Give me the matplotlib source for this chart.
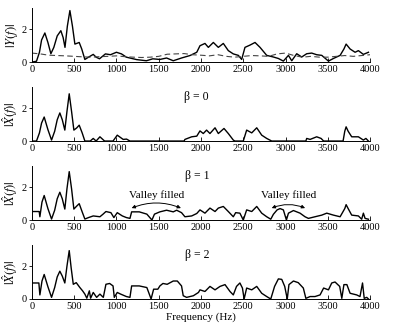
import matplotlib.pyplot as plt

plt.rcParams['font.family'] = 'Liberation Serif'
plt.rcParams['mathtext.fontset'] = 'stix'
plt.rcParams['font.size'] = 7.5

# noisy spectrum |Y(f)|
f_y = [0, 55, 90, 115, 154, 190, 225, 260, 300, 343, 370, 392, 420, 450, 480, 509, 535, 560,
       590, 627, 670, 726, 760, 800, 870, 930, 1000, 1060, 1118, 1240,
       1355, 1430, 1514, 1593, 1672, 1770, 1870, 1950, 1988, 2047, 2087, 2146, 2205, 2264,
       2323, 2382, 2442, 2481, 2520, 2580, 2639, 2698, 2777, 2856, 2915, 2974, 3034, 3073,
       3132, 3191, 3250, 3309, 3368, 3428, 3507, 3566, 3645, 3690, 3716, 3763, 3822, 3861, 3920, 3980]
y_mag = [0.0, 0.05, 0.6, 1.35, 1.78, 1.2, 0.51, 0.9, 1.6, 1.92, 1.5, 0.9, 2.2, 3.15, 2.2, 1.1, 1.15, 1.2,
         0.8, 0.16, 0.3, 0.47, 0.3, 0.2, 0.5, 0.45, 0.6, 0.5, 0.3, 0.15,
         0.08, 0.2, 0.16, 0.25, 0.08, 0.25, 0.4, 0.6, 1.0, 1.14, 0.9, 1.2, 0.9, 1.14,
         0.7, 0.5, 0.41, 0.16, 0.9, 1.04, 1.2, 0.9, 0.41, 0.31, 0.22, 0.06, 0.41, 0.08,
         0.51, 0.31, 0.51, 0.55, 0.45, 0.41, 0.06, 0.22, 0.41, 0.8, 1.1, 0.8, 0.6, 0.7, 0.47, 0.6]

# noise estimate (dashed)
f_n = [0, 100, 200, 300, 400, 500, 600, 700, 800, 900, 1000, 1100, 1200, 1300, 1400, 1500,
       1600, 1700, 1800, 1900, 2000, 2100, 2200, 2300, 2400, 2500, 2600, 2700, 2800, 2900,
       3000, 3100, 3200, 3300, 3400, 3500, 3600, 3700, 3800, 3900, 4000]
n_mag = [0.55, 0.5, 0.42, 0.4, 0.38, 0.35, 0.32, 0.3, 0.33, 0.35, 0.38, 0.33, 0.3, 0.28, 0.3, 0.35,
         0.48, 0.5, 0.52, 0.45, 0.42, 0.38, 0.45, 0.35, 0.3, 0.35, 0.4, 0.38, 0.35, 0.5,
         0.55, 0.4, 0.3, 0.35, 0.3, 0.3, 0.35, 0.4, 0.35, 0.4, 0.45]

# beta = 0
f_b0 = [0, 55, 90, 115, 146, 190, 233, 270, 300, 331, 360, 390, 415, 442, 470, 497, 530, 560,
        595, 627, 690, 726, 760, 805, 860, 960, 1010,
        1080, 1120, 1160, 1800, 1810, 1890, 1950, 1988, 2027, 2066, 2106, 2166, 2205, 2272,
        2323, 2382, 2400, 2500, 2540, 2600, 2659, 2718, 2777, 2836, 3240, 3250, 3290, 3368,
        3420, 3450, 3680, 3700, 3716, 3740, 3782, 3861, 3920, 3950, 3980]
b0_mag = [0.0, 0.0, 0.5, 1.1, 1.47, 0.7, 0.06, 0.6, 1.3, 1.72, 1.3, 0.67, 1.8, 2.89, 1.8, 0.67, 0.8, 0.97,
          0.5, 0.0, 0.0, 0.16, 0.0, 0.26, 0.0, 0.0, 0.36,
          0.1, 0.12, 0.0, 0.0, 0.1, 0.26, 0.3, 0.62, 0.46, 0.67, 0.46, 0.81, 0.46, 0.77,
          0.46, 0.06, 0.0, 0.0, 0.67, 0.5, 0.81, 0.36, 0.16, 0.0, 0.0, 0.16, 0.1, 0.26,
          0.16, 0.0, 0.0, 0.6, 0.87, 0.6, 0.26, 0.26, 0.06, 0.16, 0.0]

# beta = 1
f_b1 = [0, 87, 95, 120, 146, 190, 233, 270, 300, 331, 360, 390, 415, 442, 470, 497, 530, 560,
        595, 627, 670, 726, 805, 840, 876, 935, 970,
        1010, 1070, 1118, 1160, 1180, 1270, 1360, 1420, 1450, 1514, 1593, 1672, 1712, 1770,
        1810, 1890, 1950, 1988, 2047, 2106, 2166, 2205, 2264, 2323, 2382, 2410, 2460, 2500,
        2540, 2600, 2659, 2718, 2777, 2825, 2856, 2900, 2935, 2974, 3010, 3034, 3093, 3171, 3230,
        3270, 3348, 3428, 3487, 3566, 3645, 3700, 3716, 3740, 3782, 3861, 3900, 3920, 3940, 3980]
b1_mag = [0.52, 0.52, 0.2, 1.1, 1.5, 0.7, 0.06, 0.6, 1.3, 1.7, 1.3, 0.67, 1.9, 2.96, 1.9, 0.67, 0.85, 1.0,
          0.5, 0.06, 0.15, 0.25, 0.2, 0.35, 0.52, 0.45, 0.15,
          0.45, 0.25, 0.15, 0.1, 0.5, 0.5, 0.36, 0.0, 0.36, 0.5, 0.6, 0.5, 0.6, 0.45,
          0.2, 0.25, 0.4, 0.62, 0.42, 0.73, 0.52, 0.73, 0.83, 0.52, 0.2, 0.45, 0.42, 0.0,
          0.62, 0.52, 0.83, 0.42, 0.2, 0.05, 0.35, 0.62, 0.7, 0.62, 0.0, 0.42, 0.58, 0.42, 0.2,
          0.1, 0.2, 0.3, 0.42, 0.3, 0.2, 0.7, 0.94, 0.7, 0.3, 0.25, 0.05, 0.42, 0.1, 0.05]

# beta = 2
f_b2 = [0, 83, 95, 120, 146, 190, 233, 270, 300, 331, 360, 390, 415, 442, 465, 490, 525, 568, 600,
        627, 650, 680, 695, 726, 766,
        805, 845, 876, 920, 960, 975, 1010, 1050, 1118, 1160, 1180, 1270, 1360, 1410, 1440,
        1490, 1514, 1550, 1600, 1672, 1720, 1770, 1790, 1830, 1910, 1970, 1988, 2047, 2106,
        2166, 2225, 2284, 2343, 2382, 2420, 2460, 2490, 2510, 2540, 2600, 2659, 2718, 2777,
        2825, 2870, 2915, 2955, 2990, 3020, 3040, 3093, 3150, 3210, 3240, 3290, 3348, 3408,
        3450, 3507, 3546, 3585, 3640, 3665, 3690, 3725, 3763, 3841, 3880, 3910, 3930, 3960, 3980]
b2_mag = [0.98, 0.98, 0.25, 1.1, 1.5, 0.75, 0.1, 0.7, 1.35, 1.7, 1.4, 0.98, 2.0, 2.96, 1.9, 0.9, 1.0, 0.7, 0.5,
          0.3, 0.05, 0.5, 0.05, 0.4, 0.1,
          0.3, 0.1, 0.9, 0.95, 0.8, 0.1, 0.4, 0.3, 0.15, 0.1, 0.8, 0.8, 0.7, 0.0, 0.6,
          0.6, 0.8, 0.95, 0.9, 1.1, 1.1, 0.8, 0.2, 0.1, 0.2, 0.4, 0.56, 0.46, 0.77,
          0.56, 0.77, 0.88, 0.46, 0.25, 0.77, 0.98, 0.67, 0.0, 0.67, 0.56, 0.77, 0.35, 0.15,
          0.0, 0.77, 1.23, 1.2, 0.77, 0.0, 0.88, 1.1, 1.0, 0.67, 0.04, 0.15, 0.15, 0.25,
          0.67, 0.56, 0.98, 1.04, 0.77, 0.04, 0.88, 0.88, 0.35, 0.25, 0.15, 0.98, 0.04, 0.1, 0.0]

xticks = [0, 500, 1000, 1500, 2000, 2500, 3000, 3500, 4000]
betas = ['β = 0', 'β = 1', 'β = 2']

fig = plt.figure(figsize=(3.98, 3.25), dpi=100)
left, width, height = 0.080, 0.850, 0.166
bottoms = [0.809, 0.566, 0.323, 0.080]
axes = [fig.add_axes([left, b, width, height]) for b in bottoms]

axes[0].plot(f_y, y_mag, color='black', lw=1.0)
axes[0].plot(f_n, n_mag, color='#444444', lw=0.8, ls=(0, (5, 3)))
axes[1].plot(f_b0, b0_mag, color='black', lw=1.0)
axes[2].plot(f_b1, b1_mag, color='black', lw=1.0)
axes[3].plot(f_b2, b2_mag, color='black', lw=1.0)

ylabels = [r'$|Y(f)|$', r'$|\hat{X}(f)|$', r'$|\hat{X}(f)|$', r'$|\hat{X}(f)|$']
for ax, lab in zip(axes, ylabels):
    ax.set_xlim(0, 4000)
    ax.set_ylim(0, 3.3)
    ax.set_xticks(xticks)
    ax.set_yticks([0, 2])
    ax.spines['top'].set_visible(False)
    ax.spines['right'].set_visible(False)
    ax.spines['left'].set_linewidth(0.7)
    ax.spines['bottom'].set_linewidth(0.7)
    ax.tick_params(axis='x', direction='in', length=3, width=0.6, pad=2)
    ax.tick_params(axis='y', direction='out', length=2.5, width=0.6, pad=1.5)
    ax.set_ylabel(lab, fontsize=9, labelpad=1)

for ax, txt in zip(axes[1:], betas):
    ax.text(1950, 2.7, txt, ha='center', va='center', fontsize=8.5)

# valley annotations
for x1, x2 in [(1180, 1763), (2836, 3231)]:
    axes[2].text((x1 + x2) / 2, 1.5, 'Valley filled', ha='center', va='center', fontsize=8)
    axes[2].annotate('', xy=(x2, 0.73), xytext=(x1, 0.73),
                     arrowprops=dict(arrowstyle='<|-|>', color='black', lw=0.7,
                                     mutation_scale=5, shrinkA=0, shrinkB=0,
                                     connectionstyle='arc3,rad=-0.2'))

axes[3].set_xlabel('Frequency (Hz)', fontsize=8, labelpad=1)

fig.savefig('out.png', dpi=100)
